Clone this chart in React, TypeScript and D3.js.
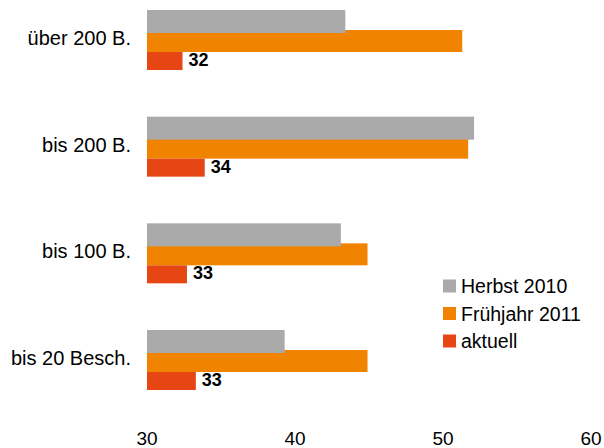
import React from "react";
import * as d3 from "d3";

const categories = ["über 200 B.", "bis 200 B.", "bis 100 B.", "bis 20 Besch."];
const seriesNames = ["Herbst 2010", "Frühjahr 2011", "aktuell"];
const herbst2010 = [43.4, 52.1, 43.1, 39.3];
const fruehjahr2011 = [51.3, 51.7, 44.9, 44.9];
const aktuell = [32.4, 33.9, 32.7, 33.3];
const xTicks = [30, 40, 50, 60];

const W = 604;
const H = 448;
const FONT = "'Liberation Sans', Arial, Helvetica, sans-serif";
const colors: Record<string, string> = {
  "Herbst 2010": "#AAAAAA",
  "Frühjahr 2011": "#F08300",
  aktuell: "#E54614",
};
// vertical extents of each bar inside a group (px from group top)
const barGeom: Record<string, [number, number]> = {
  "Herbst 2010": [0, 23],
  "Frühjahr 2011": [20, 42],
  aktuell: [42, 60],
};

export default function App() {
  const x = d3.scaleLinear().domain([30, 60]).range([147, 591]);
  const y = d3
    .scaleBand<string>()
    .domain(categories)
    .range([10, 390])
    .paddingInner(0.4375)
    .paddingOuter(0);

  const seriesData: Record<string, number[]> = {
    "Herbst 2010": herbst2010,
    "Frühjahr 2011": fruehjahr2011,
    aktuell: aktuell,
  };
  const drawOrder = ["Frühjahr 2011", "aktuell", "Herbst 2010"];

  return (
    <svg
      width={W}
      height={H}
      style={{ position: "absolute", left: 0, top: 0, background: "#fff" }}
      fontFamily={FONT}
    >
      <rect x={0} y={0} width={W} height={H} fill="#fff" />
      {drawOrder.map((s) =>
        categories.map((c, i) => {
          const g0 = y(c)!;
          const [t, b] = barGeom[s];
          const v = seriesData[s][i];
          return (
            <rect
              key={s + c}
              x={x(30)}
              y={g0 + t}
              width={x(v) - x(30)}
              height={b - t}
              fill={colors[s]}
            />
          );
        })
      )}
      {categories.map((c, i) => {
        const g0 = y(c)!;
        const [t, b] = barGeom["aktuell"];
        return (
          <text
            key={"lbl" + c}
            x={x(aktuell[i]) + 6}
            y={g0 + (t + b) / 2 + 5}
            fontSize={18}
            fontWeight="bold"
            fill="#000"
          >
            {Math.round(aktuell[i])}
          </text>
        );
      })}
      {categories.map((c) => (
        <text
          key={"cat" + c}
          x={131}
          y={y(c)! + y.bandwidth() / 2 + 5}
          fontSize={20}
          textAnchor="end"
          fill="#000"
        >
          {c}
        </text>
      ))}
      {xTicks.map((t) => (
        <text
          key={"t" + t}
          x={x(t)}
          y={445}
          fontSize={19}
          textAnchor="middle"
          fill="#000"
        >
          {t}
        </text>
      ))}
      {seriesNames.map((s, i) => {
        const cy = 286 + i * 27.5;
        return (
          <g key={"leg" + s}>
            <rect x={443} y={cy - 6.5} width={13} height={13} fill={colors[s]} />
            <text x={461} y={cy + 7} fontSize={19.5} fill="#000">
              {s}
            </text>
          </g>
        );
      })}
    </svg>
  );
}
